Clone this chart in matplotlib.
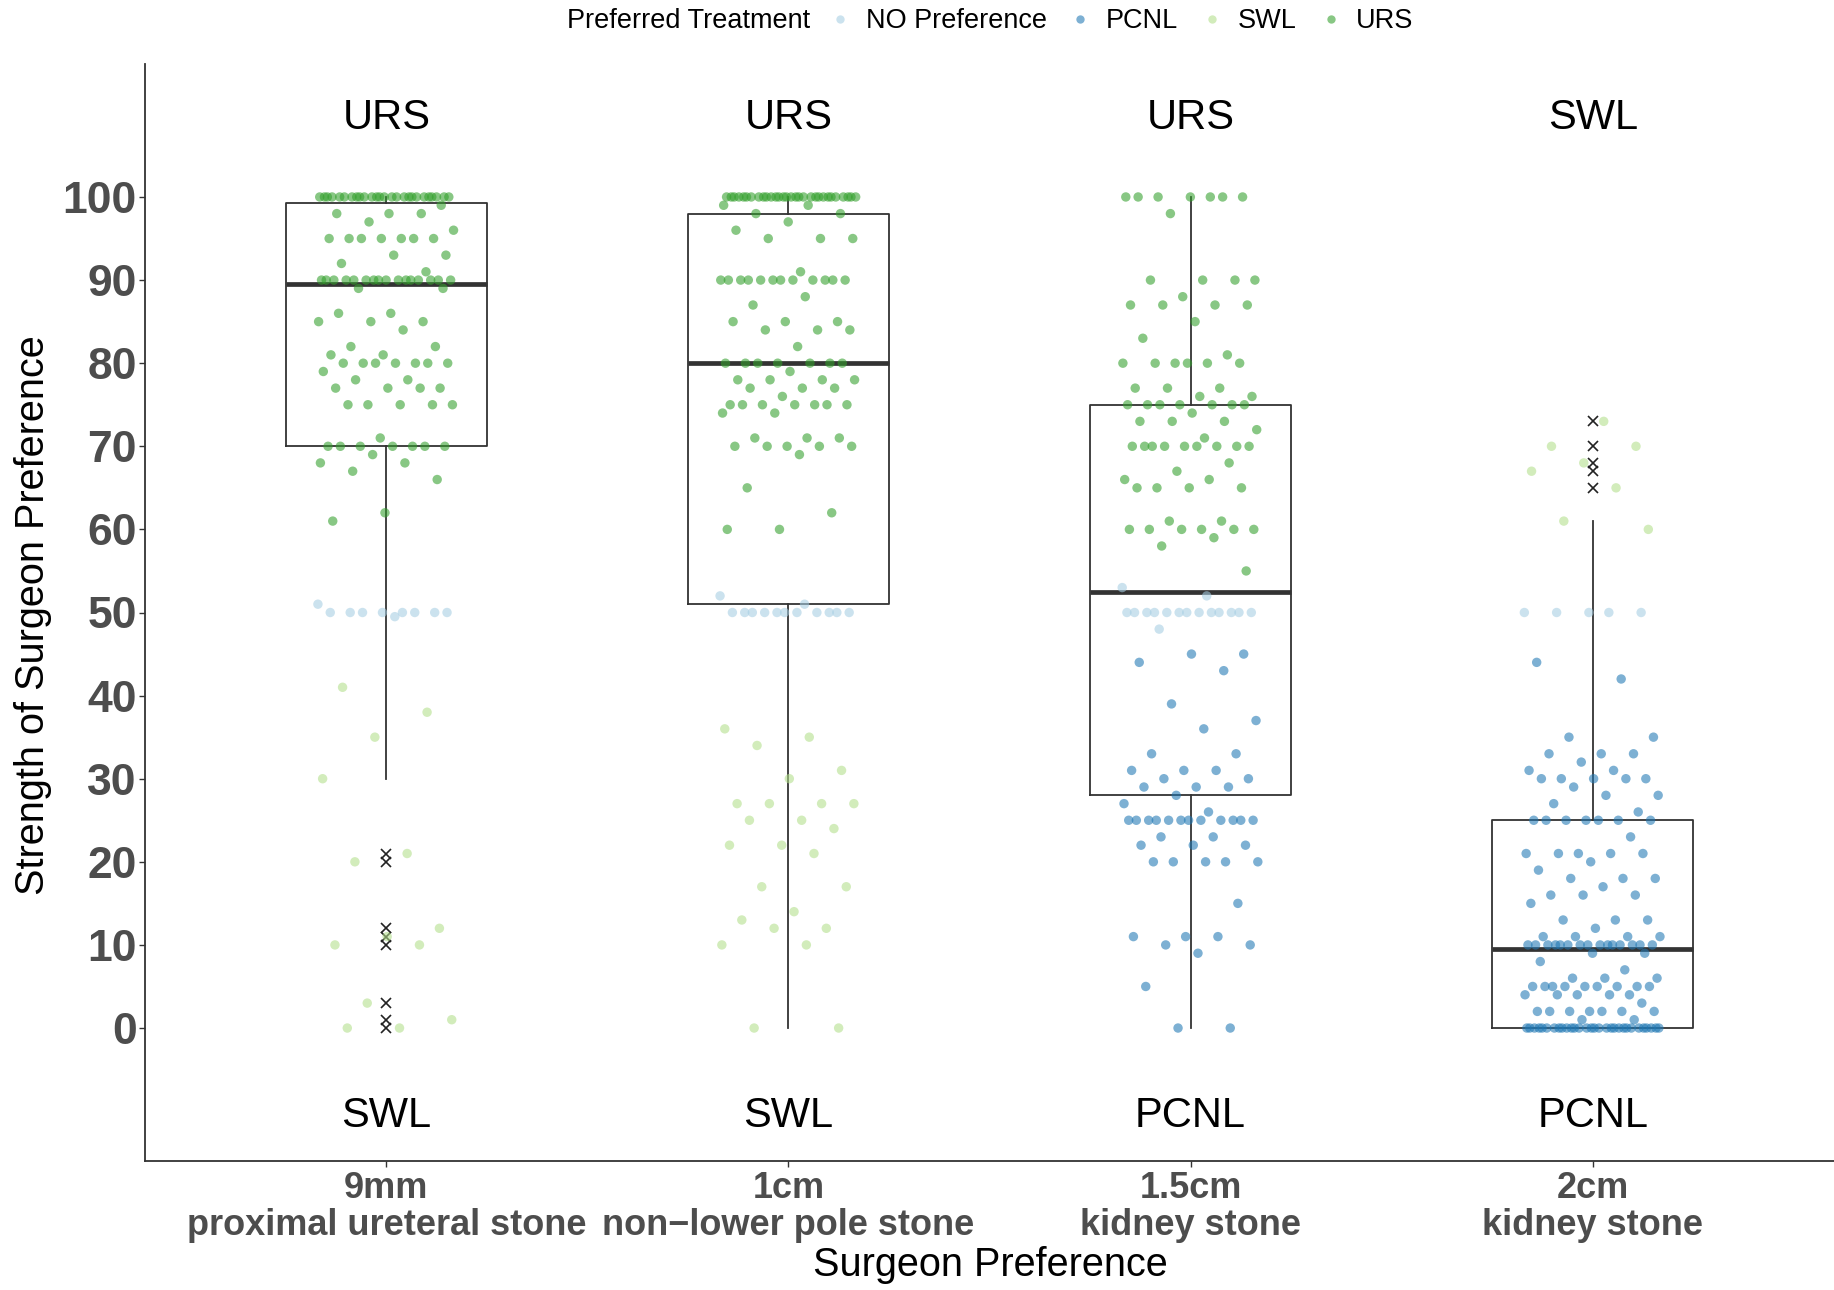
import numpy as np
import matplotlib
matplotlib.use("Agg")
import matplotlib.pyplot as plt
from matplotlib import font_manager
from matplotlib.lines import Line2D

# Categories and the preferred treatment shown at each end of the scale
categories = ["9mm\nproximal ureteral stone", "1cm\nnon\u2212lower pole stone",
              "1.5cm\nkidney stone", "2cm\nkidney stone"]
top_labels = ["URS", "URS", "URS", "SWL"]
bottom_labels = ["SWL", "SWL", "PCNL", "PCNL"]

# Box summary
q1 = [70, 51, 28, 0]
medians = [89.5, 80, 52.5, 9.5]
q3 = [99.3, 98, 75, 25]
whis_lo = [30, 0, 0, 0]
whis_hi = [100, 100, 100, 61]
fliers_9mm = [21, 20, 12, 11, 10, 3, 1, 0]
fliers_1cm = []
fliers_15cm = []
fliers_2cm = [73, 70, 68, 67, 65]

# Individual surgeon responses per scenario and preferred treatment
nopref_9mm = [51, 50, 50, 50, 50, 50, 50, 50, 50, 49.5]
pcnl_9mm = []
swl_9mm = [41, 38, 35, 30, 21, 20, 12, 11, 10, 10, 3, 1, 0, 0]
urs_9mm = [100] * 26 + [99, 98, 98, 98, 97, 96, 95, 95, 95, 95, 95, 95, 95, 93, 93, 92, 91] + \
    [90] * 16 + [89, 89, 86, 86, 85, 85, 85, 84, 82, 82, 81, 81] + [80] * 7 + \
    [79, 78, 78, 77, 77, 77, 77, 75, 75, 75, 75, 75, 71] + [70] * 7 + [69, 68, 68, 67, 66, 62, 61]

nopref_1cm = [52, 51] + [50] * 11
pcnl_1cm = []
swl_1cm = [36, 35, 34, 31, 30, 27, 27, 27, 27, 25, 25, 24, 22, 22, 21, 17, 17, 14, 13, 12, 12,
           10, 10, 0, 0]
urs_1cm = [100] * 30 + [99, 99, 98, 98, 97, 96, 95, 95, 95, 91] + [90] * 12 + \
    [88, 87, 85, 85, 85, 84, 84, 84, 82] + [80] * 7 + [79, 78, 78, 78, 78, 77, 77, 77, 76] + \
    [75] * 7 + [74, 74, 71, 71, 71, 70, 70, 70, 70, 70, 69, 65, 62, 60, 60]

nopref_15cm = [53, 52] + [50] * 13 + [48]
pcnl_15cm = [45, 45, 44, 43, 39, 37, 36, 33, 33, 31, 31, 31, 30, 30, 29, 29, 29, 28, 27, 26] + \
    [25] * 12 + [23, 23, 22, 22, 22, 20, 20, 20, 20, 20, 15, 11, 11, 11, 10, 10, 9, 5, 0, 0]
swl_15cm = []
urs_15cm = [100] * 7 + [98, 90, 90, 90, 90, 88, 87, 87, 87, 87, 85, 83, 81] + [80] * 6 + \
    [77, 77, 77, 76, 76] + [75] * 7 + [74, 73, 73, 73, 72, 71] + [70] * 9 + \
    [68, 67, 66, 66, 65, 65, 65, 65, 61, 61, 60, 60, 60, 60, 60, 60, 59, 58, 55]

nopref_2cm = [50] * 5
pcnl_2cm = [44, 42, 35, 35, 33, 33, 33, 32, 31, 31, 30, 30, 30, 30, 30, 29, 28, 28, 27, 26] + \
    [25] * 7 + [23, 21, 21, 21, 21, 21, 20, 19, 18, 18, 18, 17, 16, 16, 16, 15, 13, 13, 13, 12,
                11, 11, 11, 11] + [10] * 15 + [9, 9, 8, 7, 6, 6, 6] + [5] * 9 + \
    [4, 4, 4, 4, 4, 3, 2, 2, 2, 2, 2, 2, 2, 1, 1] + [0] * 30
swl_2cm = [73, 70, 70, 68, 67, 65, 61, 60]
urs_2cm = []

treatments = ["NO Preference", "PCNL", "SWL", "URS"]
colors = ["#A6CEE3", "#1F78B4", "#B2DF8A", "#33A02C"]

groups = [
    [nopref_9mm, pcnl_9mm, swl_9mm, urs_9mm],
    [nopref_1cm, pcnl_1cm, swl_1cm, urs_1cm],
    [nopref_15cm, pcnl_15cm, swl_15cm, urs_15cm],
    [nopref_2cm, pcnl_2cm, swl_2cm, urs_2cm],
]
fliers = [fliers_9mm, fliers_1cm, fliers_15cm, fliers_2cm]

# fonts
installed = {f.name for f in font_manager.fontManager.ttflist}
base_font = "Liberation Sans"
title_font = "Liberation Sans Narrow" if "Liberation Sans Narrow" in installed else base_font
title_size = 34.5 if title_font != base_font else 28.5
plt.rcParams["font.family"] = [base_font, "DejaVu Sans"]


def jitter(n, start, width=0.17):
    # spread points across the box with a golden-ratio step (no randomness)
    idx = np.arange(start, start + n)
    return (np.mod(idx * 0.6180339887, 1.0) - 0.5) * 2 * width


fig = plt.figure(figsize=(18.34, 12.90), dpi=100)
ax = fig.add_axes([145 / 1834, 1 - 1161 / 1290, 1 - 145 / 1834, (1161 - 64) / 1290])

positions = np.arange(1, len(categories) + 1)
stats = []
for i in range(len(categories)):
    stats.append(dict(med=medians[i], q1=q1[i], q3=q3[i], whislo=whis_lo[i],
                      whishi=whis_hi[i], fliers=fliers[i]))

ax.bxp(stats, positions=positions, widths=0.5, showcaps=False, showfliers=True,
       boxprops=dict(color="#333333", linewidth=1.3),
       whiskerprops=dict(color="#333333", linewidth=1.3),
       medianprops=dict(color="#333333", linewidth=3.4, solid_capstyle="butt"),
       flierprops=dict(marker="x", markeredgecolor="#222222", markersize=6.5,
                       markeredgewidth=1.2, linestyle="none"))

for pos, group in zip(positions, groups):
    k = 0
    for vals, col in zip(group, colors):
        if not vals:
            continue
        xs = pos + jitter(len(vals), k)
        k += len(vals)
        ax.scatter(xs, vals, s=46, color=col, alpha=0.58, edgecolors="none", zorder=3)

for pos, t, b in zip(positions, top_labels, bottom_labels):
    ax.text(pos, 110, t, ha="center", va="center_baseline", fontsize=30, color="black")
    ax.text(pos, -10, b, ha="center", va="center_baseline", fontsize=30, color="black")

ax.set_xlim(0.4, 4.6)
ax.set_ylim(-16, 116)
ax.set_yticks(np.arange(0, 101, 10))
ax.set_xticks(positions)
ax.set_xticklabels(categories, fontsize=26, fontweight="bold", color="#4D4D4D",
                   linespacing=1.1)
ax.tick_params(axis="y", labelsize=32, labelcolor="#4D4D4D", length=4, width=1,
               color="#333333", pad=2)
for lab in ax.get_yticklabels():
    lab.set_fontweight("heavy")
ax.tick_params(axis="x", length=4, width=1, color="#333333", pad=3)

for side in ["top", "right"]:
    ax.spines[side].set_visible(False)
for side in ["left", "bottom"]:
    ax.spines[side].set_color("#333333")
    ax.spines[side].set_linewidth(1.3)

fig.text(990 / 1834, 1 - 1265 / 1290, "Surgeon Preference", ha="center", va="center",
         fontsize=title_size, family=title_font)
fig.text(33 / 1834, 1 - 615 / 1290, "Strength of Surgeon Preference", ha="center",
         va="center", rotation=90, fontsize=title_size, family=title_font)

# legend across the top
fig.text(567 / 1834, 1 - 21 / 1290, "Preferred Treatment", ha="left", va="center",
         fontsize=19.5)
handles = [Line2D([], [], marker="o", linestyle="none", markersize=6, color=c, alpha=0.58,
                  markeredgewidth=0) for c in colors]
fig.legend(handles, treatments, loc="center left", bbox_to_anchor=(833 / 1834, 1 - 21 / 1290),
           ncol=4, frameon=False, fontsize=19.5, borderpad=0, borderaxespad=0,
           handlelength=0.5, handletextpad=0.7, columnspacing=1.0)

fig.savefig("out.png", dpi=100)
